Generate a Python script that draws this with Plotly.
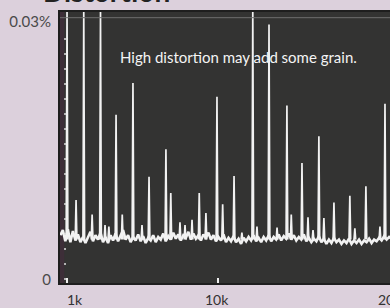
import numpy as np
import plotly.graph_objects as go

# ---- data (frequency in kHz, distortion in %) ----
floor_start_khz = 0.6
floor_step_khz = 0.15
floor_vals = [
    0.0052, 0.0058, 0.0045, 0.0059, 0.0044, 0.0057, 0.0046, 0.0053, 0.0044, 0.0050,
    0.0043, 0.0049, 0.0056, 0.0045, 0.0052, 0.0047, 0.0055, 0.0044, 0.0050, 0.0043,
    0.0052, 0.0046, 0.0054, 0.0045, 0.0051, 0.0058, 0.0047, 0.0052, 0.0044, 0.0050,
    0.0046, 0.0053, 0.0045, 0.0051, 0.0043, 0.0049, 0.0046, 0.0052, 0.0044, 0.0050,
    0.0047, 0.0054, 0.0045, 0.0051, 0.0047, 0.0055, 0.0048, 0.0053, 0.0046, 0.0052,
    0.0049, 0.0056, 0.0047, 0.0054, 0.0048, 0.0052, 0.0046, 0.0053, 0.0049, 0.0055,
    0.0047, 0.0052, 0.0045, 0.0050, 0.0046, 0.0053, 0.0044, 0.0049, 0.0045, 0.0051,
    0.0044, 0.0048, 0.0042, 0.0049, 0.0045, 0.0050, 0.0046, 0.0052, 0.0045, 0.0049,
    0.0044, 0.0050, 0.0046, 0.0052, 0.0045, 0.0050, 0.0047, 0.0053, 0.0046, 0.0051,
    0.0048, 0.0054, 0.0047, 0.0052, 0.0046, 0.0050, 0.0047, 0.0053, 0.0045, 0.0049,
    0.0044, 0.0048, 0.0045, 0.0051, 0.0044, 0.0048, 0.0042, 0.0047, 0.0043, 0.0049,
    0.0044, 0.0047, 0.0042, 0.0046, 0.0043, 0.0048, 0.0042, 0.0046, 0.0043, 0.0047,
    0.0042, 0.0046, 0.0044, 0.0048, 0.0043, 0.0047, 0.0045, 0.0049, 0.0046, 0.0051,
    0.0047, 0.0050, 0.0048,
]

spike_freqs = [
    1.0, 1.54, 2.0, 2.5, 3.0, 3.27, 3.5, 3.93, 4.3, 4.94,
    5.48, 5.9, 6.91, 7.2, 7.75, 8.05, 8.47, 8.9, 9.3, 9.96,
    10.3, 10.98, 11.45, 12.1, 12.35, 13.07, 13.55, 14.14, 14.4, 15.04,
    15.4, 15.7, 16.05, 16.35, 16.95, 17.9, 18.2, 18.86, 19.7, 20.0,
]
spike_peaks = [
    0.0312, 0.0093, 0.0312, 0.0076, 0.0312, 0.0064, 0.0062, 0.0192, 0.0076, 0.0229,
    0.0064, 0.0120, 0.0152, 0.0101, 0.0067, 0.0064, 0.0070, 0.0101, 0.0078, 0.0213,
    0.0088, 0.0121, 0.0055, 0.0312, 0.0062, 0.0297, 0.0061, 0.0203, 0.0076, 0.0136,
    0.0073, 0.0058, 0.0167, 0.0072, 0.0090, 0.0098, 0.0060, 0.0109, 0.0062, 0.0205,
]
spike_base = 0.0047
spike_halfwidth_khz = 0.05

x_ticks = [1, 10, 20]
x_tick_text = ["1k", "10k", "20k"]
y_ticks = [0, 0.03]
y_tick_text = ["0", "0.03%"]

note_text = "High distortion may add some grain."
title_text = "Distortion"

# ---- build traces ----
floor_x = floor_start_khz + floor_step_khz * np.arange(len(floor_vals))

sx, sy = [], []
for f, p in zip(spike_freqs, spike_peaks):
    sx += [f - spike_halfwidth_khz, f, f + spike_halfwidth_khz, None]
    sy += [spike_base, p, spike_base, None]

fig = go.Figure()
fig.add_trace(go.Scatter(x=floor_x, y=floor_vals, mode="lines",
                         line=dict(color="#f2f2f2", width=2.6),
                         hoverinfo="skip", showlegend=False))
fig.add_trace(go.Scatter(x=sx, y=sy, mode="lines",
                         line=dict(color="#f2f2f2", width=1.7),
                         hoverinfo="skip", showlegend=False))

BG = "#dcd0dc"
fig.update_layout(
    width=390, height=308,
    margin=dict(l=60, r=0, t=12, b=25, autoexpand=False),
    paper_bgcolor=BG, plot_bgcolor="#333332",
    font=dict(family="Lato", color="#3c3c3c", size=14),
    showlegend=False,
)
fig.update_xaxes(range=[0.58, 20.3], showgrid=False, zeroline=False,
                 showline=True, mirror=True, linecolor="#1e1e1e", linewidth=2,
                 tickvals=x_ticks[:2], ticks="inside", ticklen=5, tickcolor="#eeeeee",
                 tickwidth=2, showticklabels=False)
fig.update_yaxes(range=[-0.00035, 0.03116], showgrid=False, zeroline=False,
                 showline=True, mirror=True, linecolor="#1e1e1e", linewidth=2,
                 tickvals=y_ticks, ticktext=y_tick_text, ticks="",
                 ticklabelstandoff=4,
                 tickfont=dict(family="Lato", size=15, color="#4a4a4a"))

# faint frame line near top, darker left strip and dotted left rule
fig.add_shape(type="line", xref="paper", yref="y", x0=0, x1=1, y0=0.0305, y1=0.0305,
              line=dict(color="#6e6e6e", width=1))
fig.add_shape(type="rect", xref="paper", yref="paper", x0=0, x1=0.013, y0=0, y1=1,
              fillcolor="#3d2e38", line=dict(width=0), layer="below")
fig.add_shape(type="line", xref="x", yref="y", x0=0.88, x1=0.88, y0=0.0, y1=0.029,
              line=dict(color="#dddddd", width=1.5, dash="2px,13px"))

# x tick labels
shifts = [8, -1, 5]
for v, t, s in zip(x_ticks, x_tick_text, shifts):
    fig.add_annotation(x=v, y=0, xref="x", yref="paper", text=t, showarrow=False,
                       xanchor="center", yanchor="top", xshift=s, yshift=-6,
                       font=dict(family="Lato", size=14, color="#333333"))

fig.add_annotation(x=0.54, y=0.835, xref="paper", yref="paper", text=note_text,
                   showarrow=False, xanchor="center", yanchor="middle",
                   font=dict(family="Lato", size=15, color="#f4f4f4"))

fig.add_annotation(x=-0.058, y=1, xref="paper", yref="paper", text="<b>" + title_text + "</b>",
                   showarrow=False, xanchor="left", yanchor="bottom", yshift=2,
                   font=dict(family="Lato", size=28, color="#222222"))

fig.write_html("out.html", config={"displayModeBar": False},
               post_script="document.body.style.margin='0';document.body.style.overflow='hidden';")
